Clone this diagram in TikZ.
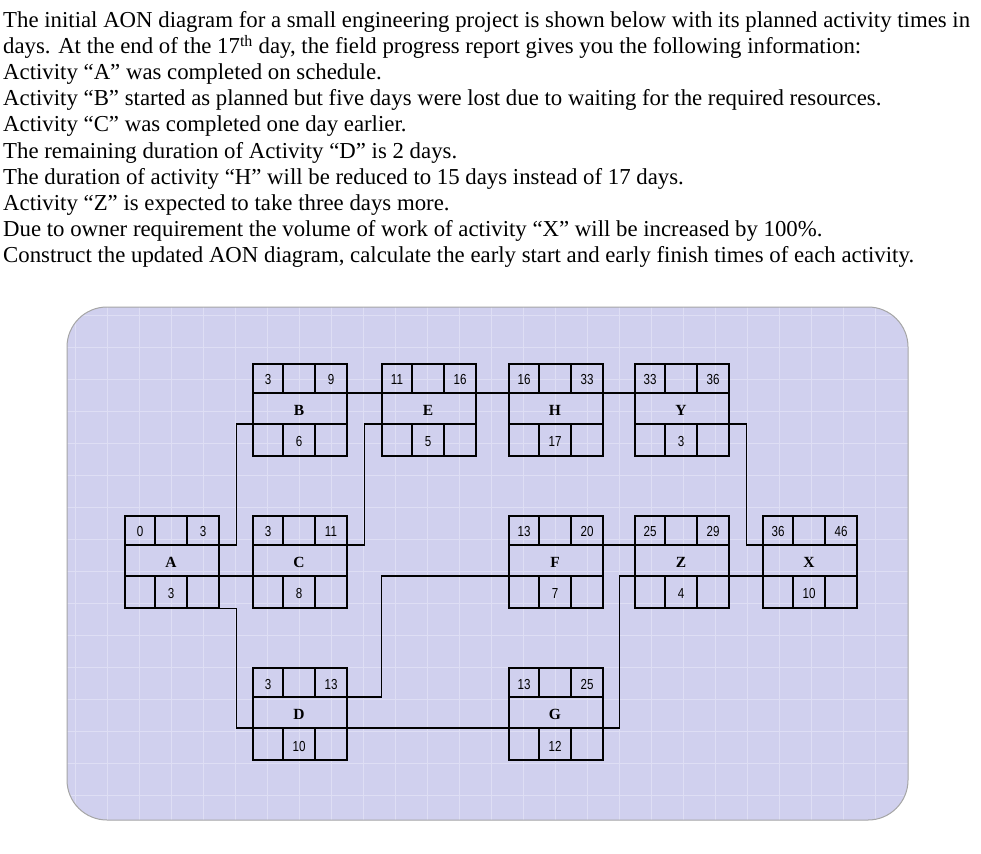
\documentclass[tikz,border=0pt]{standalone}
\usepackage{fontspec}
\setmainfont{Liberation Serif}
\newfontfamily\numfont{Liberation Sans}
\usetikzlibrary{calc}
\definecolor{bgc}{RGB}{208,208,238}
\definecolor{gridc}{RGB}{222,222,244}
\tikzset{
  aonbox/.style={draw=black,line width=1.6pt,minimum width=94pt,minimum height=92pt,anchor=north west,inner sep=0pt},
  cell/.style={line width=1.3pt},
  link/.style={line width=1.5pt},
  numtxt/.style={font=\numfont\fontsize{14.5}{14.5}\selectfont,xscale=0.8},
  lettxt/.style={font=\bfseries\fontsize{15.5}{15.5}\selectfont},
  para/.style={anchor=base west,inner sep=0pt,font=\fontsize{22.8}{22.8}\selectfont}
}
\newcommand{\aonnode}[7]{%
  \node[aonbox] (#1) at (#2,#3) {};
  \draw[cell] (#2,#3+30) -- ++(94,0) (#2,#3+61) -- ++(94,0)
    (#2+31,#3) -- ++(0,30) (#2+63,#3) -- ++(0,30)
    (#2+31,#3+61) -- ++(0,31) (#2+63,#3+61) -- ++(0,31);
  \node[numtxt] (#1es) at (#2+16,#3+17) {#4};
  \node[numtxt] (#1ef) at (#2+79,#3+17) {#5};
  \node[lettxt] (#1nm) at (#2+47,#3+47) {#6};
  \node[numtxt] (#1du) at (#2+47,#3+79) {#7};
}
\begin{document}
\begin{tikzpicture}[x=1pt,y=-1pt]
\useasboundingbox (0,0) rectangle (981,853);
\fill[white] (0,0) rectangle (981,853);
\node[para] (t1) at (3,28) {The initial AON diagram for a small engineering project is shown below with its planned activity times in};
\node[para] (t2) at (3,54) {days. At the end of the 17\textsuperscript{th} day, the field progress report gives you the following information:};
\node[para] (t3) at (3,80) {Activity “A” was completed on schedule.};
\node[para] (t4) at (3,106) {Activity “B” started as planned but five days were lost due to waiting for the required resources.};
\node[para] (t5) at (3,132) {Activity “C” was completed one day earlier.};
\node[para] (t6) at (3,158) {The remaining duration of Activity “D” is 2 days.};
\node[para] (t7) at (3,184) {The duration of activity “H” will be reduced to 15 days instead of 17 days.};
\node[para] (t8) at (3,210) {Activity “Z” is expected to take three days more.};
\node[para] (t9) at (3,236) {Due to owner requirement the volume of work of activity “X” will be increased by 100\%.};
\node[para] (t10) at (3,262) {Construct the updated AON diagram, calculate the early start and early finish times of each activity.};
% background panel
\fill[bgc,rounded corners=40pt] (67,307) rectangle (908,820);
\begin{scope}
\clip[rounded corners=40pt] (67,307) rectangle (908,820);
\foreach \gx in {75,107,...,905} \draw[gridc,line width=0.8pt] (\gx,307) -- (\gx,820);
\foreach \gy in {315,347,...,820} \draw[gridc,line width=0.8pt] (67,\gy) -- (908,\gy);
\end{scope}
\draw[gray!70,line width=1pt,rounded corners=40pt] (67,307) rectangle (908,820);
% nodes
\aonnode{A}{124}{515}{0}{3}{A}{3}
\aonnode{B}{252}{363}{3}{9}{B}{6}
\aonnode{C}{252}{515}{3}{11}{C}{8}
\aonnode{D}{252}{667}{3}{13}{D}{10}
\aonnode{E}{381}{363}{11}{16}{E}{5}
\aonnode{H}{508}{363}{16}{33}{H}{17}
\aonnode{F}{508}{515}{13}{20}{F}{7}
\aonnode{G}{508}{667}{13}{25}{G}{12}
\aonnode{Y}{634}{363}{33}{36}{Y}{3}
\aonnode{Z}{634}{515}{25}{29}{Z}{4}
\aonnode{X}{762}{515}{36}{46}{X}{10}
% connectors
\draw[link] ($(A.north east)+(0,30)$) -- ++(17,0) |- ($(B.north west)+(0,61)$);
\draw[link] ($(A.north east)+(0,61)$) -- ($(C.north west)+(0,61)$);
\draw[link] (A.south east) -- ++(17,0) |- ($(D.north west)+(0,61)$);
\draw[link] ($(B.north east)+(0,30)$) -- ($(E.north west)+(0,30)$);
\draw[link] ($(C.north east)+(0,30)$) -- ++(17,0) |- ($(E.north west)+(0,61)$);
\draw[link] ($(D.north east)+(0,30)$) -- ++(34,0) |- ($(F.north west)+(0,61)$);
\draw[link] ($(D.north east)+(0,61)$) -- ($(G.north west)+(0,61)$);
\draw[link] ($(E.north east)+(0,30)$) -- ($(H.north west)+(0,30)$);
\draw[link] ($(H.north east)+(0,30)$) -- ($(Y.north west)+(0,30)$);
\draw[link] ($(F.north east)+(0,30)$) -- ($(Z.north west)+(0,30)$);
\draw[link] ($(G.north east)+(0,61)$) -- ++(16,0) |- ($(Z.north west)+(0,61)$);
\draw[link] ($(Y.north east)+(0,61)$) -- ++(17,0) |- ($(X.north west)+(0,30)$);
\draw[link] ($(Z.north east)+(0,61)$) -- ($(X.north west)+(0,61)$);
\end{tikzpicture}
\end{document}
